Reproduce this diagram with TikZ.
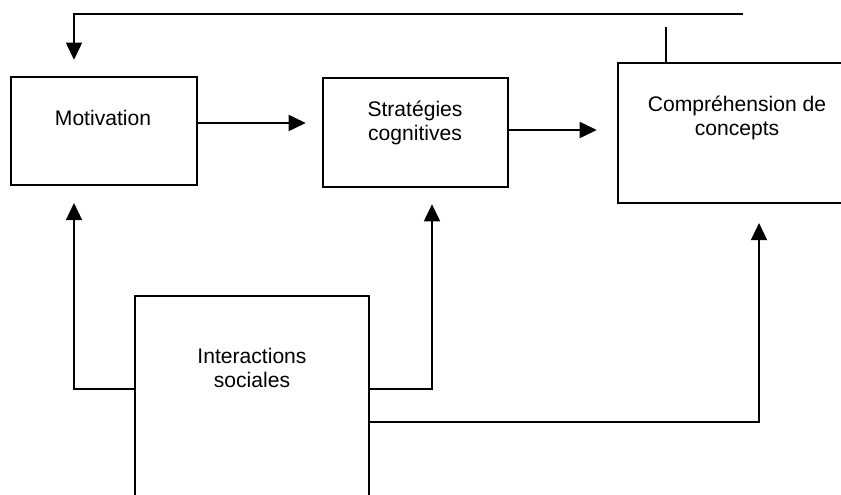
\documentclass[tikz,border=0pt]{standalone}
\usepackage{fontspec}
\setmainfont{Liberation Sans}
\usetikzlibrary{arrows.meta}
\usetikzlibrary{calc}
\usetikzlibrary{positioning}
\tikzstyle{block} = [draw, line width=1.7pt, rectangle, inner sep=0pt]
\tikzstyle{txt} = [font=\fontsize{15pt}{16.7pt}\selectfont, align=center, inner sep=0pt]
\tikzstyle{line} = [line width=1.5pt]
\tikzstyle{arrow} = [line, -{Triangle[length=0.43cm,width=0.4cm]}]

\begin{document}
\begin{tikzpicture}[x=0.025cm, y=-0.025cm]
    \useasboundingbox (0,0) rectangle (841,494);

    % the four boxes
    \node[block, minimum width=4.65cm, minimum height=2.7cm] at (104,131) (motiv) {};
    \node[block, minimum width=4.625cm, minimum height=2.725cm] at (415.5,132.5) (strat) {};
    \node[block, minimum width=5.95cm, minimum height=3.5cm] at (737,133) (compr) {};
    \node[block, minimum width=5.85cm, minimum height=5.6cm] at (252,408) (inter) {};

    \node[txt, anchor=base] at (103,125) (motivtxt) {Motivation};
    \node[txt, anchor=base] at (415,140) (strattxt) {Stratégies\\cognitives};
    \node[txt, anchor=base] at (737,135) (comprtxt) {Compréhension de\\concepts};
    \node[txt, anchor=base] at (252,387) (intertxt) {Interactions\\sociales};

    % feedback line on top
    \coordinate (fbstart) at (743,14);
    \coordinate (fbtop) at (74,14);
    \coordinate (stub) at (666,27);
    \draw[arrow, shorten >=0.4cm] (fbstart) -- (fbtop) -- (fbtop |- motiv.north);
    \draw[line] (stub) -- (stub |- compr.north);

    % horizontal chain
    \coordinate (m2s) at (197,123);
    \coordinate (s2c) at (508,130);
    \draw[arrow, shorten >=0.4cm] (m2s) -- (m2s -| strat.west);
    \draw[arrow, shorten >=0.5cm] (s2c) -- (s2c -| compr.west);

    % from the interactions
    \draw[arrow, shorten >=0.42cm] ($(inter.west)+(0,-19)$) -| ($(motiv.south)+(-30,0)$);
    \draw[arrow, shorten >=0.4cm] ($(inter.east)+(0,-19)$) -| ($(strat.south)+(16.5,0)$);
    \draw[arrow, shorten >=0.47cm] ($(inter.east)+(0,14)$) -| ($(compr.south)+(22,0)$);
\end{tikzpicture}
\end{document}
